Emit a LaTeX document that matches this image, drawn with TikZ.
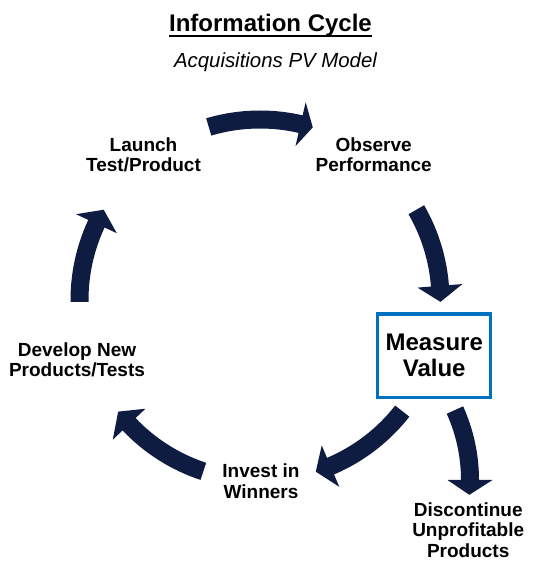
\documentclass[tikz,border=0pt]{standalone}
\usepackage{fontspec}
\setmainfont{Liberation Sans}
\usetikzlibrary{calc}
\definecolor{arrownavy}{HTML}{0F1C41}
\definecolor{boxblue}{HTML}{0070C0}
% #1 centre, #2 radius, #3 tail angle, #4 head-base angle, #5 tip angle
\newcommand\ringarrow[5]{%
  \pgfmathsetmacro\rao{#2+9}\pgfmathsetmacro\rai{#2-9}%
  \pgfmathsetmacro\rhout{#2+22.5}\pgfmathsetmacro\rhin{#2-22.5}%
  \fill[arrownavy] ($(#1)+(#3:\rao pt)$) arc[start angle=#3, end angle=#4, radius=\rao pt]
    -- ($(#1)+(#4:\rhout pt)$) -- ($(#1)+(#5:#2pt)$) -- ($(#1)+(#4:\rhin pt)$)
    -- ($(#1)+(#4:\rai pt)$) arc[start angle=#4, end angle=#3, radius=\rai pt] -- cycle;}
\tikzset{
  lbl/.style={align=center, inner sep=0pt, anchor=base, font=\fontsize{19}{20.5}\selectfont\bfseries},
}
\begin{document}
\begin{tikzpicture}[x=1pt,y=1pt]
\useasboundingbox (0,0) rectangle (535,575);
\fill[white] (0,0) rectangle (535,575);
\coordinate (C) at (260,275);
\coordinate (D) at (300,95);
% title
\node[inner sep=0pt, anchor=base, font=\fontsize{24}{28}\selectfont\bfseries] (title) at (270.5,543) {Information Cycle};
\draw[line width=2pt] ([yshift=-4.5pt]title.base west) -- ([yshift=-4.5pt]title.base east);
\node[inner sep=0pt, anchor=base, font=\fontsize{20.4}{24}\selectfont\itshape] (subtitle) at (275.5,507.5) {Acquisitions PV Model};
% labels (anchored at the baseline of the last line)
\node[lbl] (launch) at (143.5,403.3) {Launch\\Test/Product};
\node[lbl] (observe) at (373.7,403.3) {Observe\\Performance};
\node[lbl] (develop) at (77,198.3) {Develop New\\Products/Tests};
\node[lbl] (invest) at (261,76.7) {Invest in\\Winners};
\node[lbl] (discont) at (468.2,17.7) {Discontinue\\Unprofitable\\Products};
\node[draw=boxblue, line width=3.3pt, minimum width=113pt, minimum height=83.3pt, inner sep=0pt,
      align=center, font=\fontsize{24}{26}\selectfont\bfseries] (measure) at (434.2,219.3) {Measure\\Value};
% arrows
\ringarrow{C}{180.5}{106.5}{77}{73}
\ringarrow{C}{180.5}{30}{4.5}{-0.6}
\ringarrow{C}{180.5}{-38}{-67}{-72}
\ringarrow{C}{180.5}{251.7}{223.5}{218.2}
\ringarrow{C}{180.5}{180.6}{155}{150}
\ringarrow{D}{170}{24.3}{0}{-5}
\end{tikzpicture}
\end{document}
